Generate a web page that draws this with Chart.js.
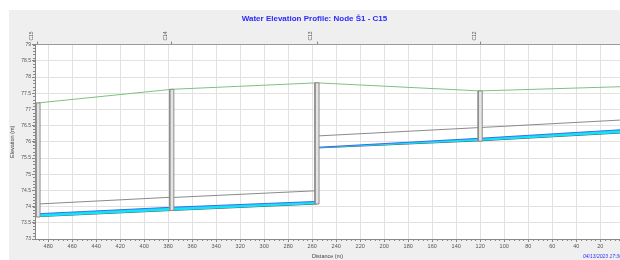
<!DOCTYPE html>
<html>
<head>
<meta charset="utf-8">
<script src="https://cdn.jsdelivr.net/npm/chart.js@4.4.0/dist/chart.umd.min.js"></script>
<style>
body{margin:0;background:#fff;width:620px;height:260px;overflow:hidden;position:relative}
#wrap{position:absolute;left:9px;top:10px;width:611px;height:250px;background:#efefef}
</style>
</head>
<body>
<div id="wrap"><canvas id="profile"></canvas></div>
<script>
const FONT = 'Liberation Sans';

// nodes (manholes)
const nodeNames = ['C15', 'C14', 'C13', 'C12'];
const nodeDist = [488.5, 377, 256, 120];
const nodeGround = [77.2, 77.62, 77.82, 77.57];
const nodeBottom = [73.68, 73.88, 74.08, 76.02];

// ground surface
const groundDist = [488.5, 377, 256, 120, 3.5];
const groundElev = [77.2, 77.62, 77.82, 77.57, 77.7];

// pipe segments
const segFrom = [488.5, 377, 256, 120];
const segTo = [377, 256, 120, 3.5];
const invertUp = [73.69, 73.88, 75.81, 76.03];
const invertDown = [73.88, 74.08, 76.03, 76.27];
const crownUp = [74.08, 74.28, 76.18, 76.44];
const crownDown = [74.29, 74.49, 76.44, 76.67];
const waterUp = [73.78, 73.98, 75.83, 76.11];
const waterDown = [73.98, 74.16, 76.11, 76.37];

const xTicks = [480, 460, 440, 420, 400, 380, 360, 340, 320, 300, 280, 260, 240, 220, 200, 180, 160, 140, 120, 100, 80, 60, 40, 20];
const yTicks = [73, 73.5, 74, 74.5, 75, 75.5, 76, 76.5, 77, 77.5, 78, 78.5, 79];

const mhHalf = 1.7;

const datasets = [];

// manholes
nodeDist.forEach(function(d, i) {
  datasets.push({
    data: [
      {x: d - mhHalf, y: nodeBottom[i]},
      {x: d - mhHalf, y: nodeGround[i]},
      {x: d + mhHalf, y: nodeGround[i]},
      {x: d + mhHalf, y: nodeBottom[i]},
      {x: d - mhHalf, y: nodeBottom[i]}
    ],
    borderColor: '#8c8c8c',
    backgroundColor: '#e4e4e4',
    borderWidth: 1,
    fill: 'shape',
    order: 0
  });
});

// pipes
segFrom.forEach(function(d, i) {
  datasets.push({
    data: [{x: d, y: crownUp[i]}, {x: segTo[i], y: crownDown[i]}],
    borderColor: '#8a8a8a',
    borderWidth: 1,
    fill: false,
    order: 2
  });
  datasets.push({
    data: [{x: d, y: waterUp[i]}, {x: segTo[i], y: waterDown[i]}],
    borderColor: '#3a6cf0',
    backgroundColor: '#10e4f6',
    borderWidth: 1,
    fill: '+1',
    order: 1
  });
  datasets.push({
    data: [{x: d, y: invertUp[i]}, {x: segTo[i], y: invertDown[i]}],
    borderColor: '#4a6068',
    borderWidth: 1,
    fill: false,
    order: 1
  });
});

// ground
datasets.push({
  data: groundDist.map(function(d, i) { return {x: d, y: groundElev[i]}; }),
  borderColor: '#80c080',
  borderWidth: 1,
  fill: false,
  order: 3
});

const extras = {
  id: 'extras',
  beforeDraw: function(chart) {
    const c = chart.ctx, a = chart.chartArea;
    c.save();
    c.fillStyle = '#ffffff';
    c.fillRect(a.left, a.top, a.right - a.left, a.bottom - a.top);
    c.restore();
  },
  afterDraw: function(chart) {
    const c = chart.ctx, a = chart.chartArea;
    const xs = chart.scales.x, ys = chart.scales.y;
    c.save();
    c.strokeStyle = '#888';
    c.lineWidth = 1;
    c.beginPath();
    for (let v = 4; v <= 490; v += 4) {
      const px = Math.round(xs.getPixelForValue(v)) + 0.5;
      c.moveTo(px, a.bottom);
      c.lineTo(px, a.bottom + 2);
    }
    for (let v = 73.1; v < 79; v += 0.1) {
      const py = Math.round(ys.getPixelForValue(v)) + 0.5;
      c.moveTo(a.left - 2, py);
      c.lineTo(a.left, py);
    }
    c.stroke();
    c.fillStyle = '#3030ff';
    c.font = 'italic 5px ' + FONT;
    c.textAlign = 'left';
    c.textBaseline = 'middle';
    c.fillText('04/13/2023 17:30', 574, 247);
    c.restore();
  }
};

new Chart(document.getElementById('profile'), {
  type: 'line',
  data: {datasets: datasets},
  options: {
    responsive: true,
    maintainAspectRatio: false,
    animation: false,
    layout: {padding: 0},
    elements: {point: {radius: 0}, line: {tension: 0}},
    plugins: {
      legend: {display: false},
      tooltip: {enabled: false},
      title: {
        display: true,
        text: 'Water Elevation Profile: Node Š1 - C15',
        color: '#2a2aff',
        font: {family: FONT, size: 8, weight: 'bold'},
        padding: {top: 4, bottom: 2}
      }
    },
    scales: {
      x: {
        type: 'linear', reverse: true, min: 3.5, max: 491, position: 'bottom',
        afterBuildTicks: function(s) { s.ticks = xTicks.map(function(v) { return {value: v}; }); },
        afterFit: function(s) { s.height = 21; },
        ticks: {font: {family: FONT, size: 5.5}, color: '#555', padding: 1, maxRotation: 0, autoSkip: false},
        grid: {color: '#e2e2e2', tickLength: 3, tickColor: '#888'},
        border: {color: '#888'},
        title: {display: true, text: 'Distance (m)', color: '#444', font: {family: FONT, size: 5.5}, padding: 0}
      },
      x2: {
        type: 'linear', reverse: true, min: 3.5, max: 491, position: 'top',
        afterBuildTicks: function(s) { s.ticks = nodeDist.map(function(v) { return {value: v}; }); },
        afterFit: function(s) { s.height = 19; },
        ticks: {
          callback: function(v, i) { return nodeNames[i]; },
          font: {family: FONT, size: 5}, color: '#555', padding: 1,
          minRotation: 90, maxRotation: 90, autoSkip: false
        },
        grid: {drawOnChartArea: false, tickLength: 3, color: '#888'},
        border: {color: '#999'}
      },
      y: {
        min: 73, max: 79,
        afterBuildTicks: function(s) { s.ticks = yTicks.map(function(v) { return {value: v}; }); },
        afterFit: function(s) { s.width = 26; },
        ticks: {font: {family: FONT, size: 5}, color: '#555', padding: 1, callback: function(v) { return String(v); }},
        grid: {color: '#e2e2e2', tickLength: 3, tickColor: '#888'},
        border: {color: '#888'},
        title: {display: true, text: 'Elevation (m)', color: '#444', font: {family: FONT, size: 5.5}, padding: 0}
      }
    }
  },
  plugins: [extras]
});
</script>
</body>
</html>
